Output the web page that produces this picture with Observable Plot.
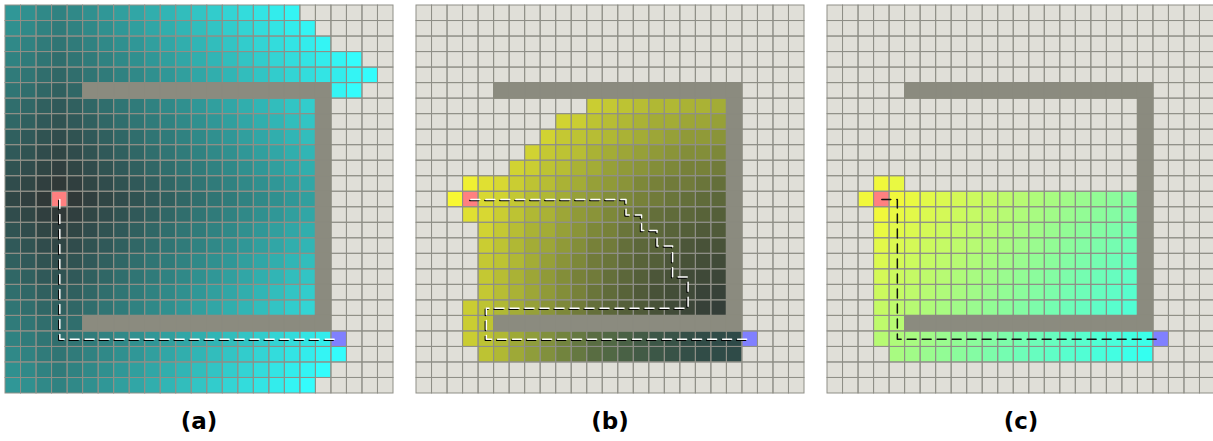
<!DOCTYPE html>
<html><head><meta charset="utf-8">
<script src="https://cdn.jsdelivr.net/npm/d3@7"></script>
<script src="https://cdn.jsdelivr.net/npm/@observablehq/plot@0.6"></script>
<style>
html,body{margin:0;padding:0;background:#fff;width:1213px;height:441px;overflow:hidden;position:relative;}
.panel{position:absolute;top:4px;width:390px;height:390px;}
.panel svg{display:block;}
.label{position:absolute;top:407px;width:390px;text-align:center;font:bold 23px "DejaVu Sans",sans-serif;line-height:28px;color:#000;}
</style></head><body>
<script>
// '.' unexplored, '#' wall, '*' start, '@' goal, other chars = value (0-9a-zA-Z)
const panelLabels = ["(a)", "(b)", "(c)"];

// (a) cost so far from start (grid steps)
const gridA = [
"fedcdefghijklmnopqr......",
"edcbcdefghijklmnopqr.....",
"dcbabcdefghijklmnopqr....",
"cba9abcdefghijklmnopqrs..",
"ba989abcdefghijklmnopqrs.",
"a9878################rs..",
"9876789abcdefghijklm#....",
"87656789abcdefghijkl#....",
"765456789abcdefghijk#....",
"6543456789abcdefghij#....",
"54323456789abcdefghi#....",
"432123456789abcdefgh#....",
"321*123456789abcdefg#....",
"432123456789abcdefgh#....",
"54323456789abcdefghi#....",
"6543456789abcdefghij#....",
"765456789abcdefghijk#....",
"87656789abcdefghijkl#....",
"9876789abcdefghijklm#....",
"a98789abcdefghijklmn#....",
"ba989################....",
"cba9abcdefghijklmnopq@...",
"dcbabcdefghijklmnopqrs...",
"edcbcdefghijklmnopqrs....",
"fedcdefghijklmnopqrs....."
];

// (b) distance to goal (half steps)
const gridB = [
".........................",
".........................",
".........................",
".........................",
".........................",
".....################....",
"...........Azyxwwvvu#....",
".........BAyxwvuutts#....",
"........Bzyxwvutsrrq#....",
".......Bzyxvutsrqppo#....",
"......BAyxvusrqponnm#....",
"...FDCAyxvusrqonmmlk#....",
"..G*CBzxwusrponmlkji#....",
"...DCAywvtrqonlkjihg#....",
"....Bzxvusqonlkihgff#....",
"....Aywutrpnmkihgedd#....",
"....zywusqomljhgedcb#....",
"....zxvtrpnmkigedba9#....",
"....zxvtrpnljhfdca87#....",
"...Aywusqomkigfdb976#....",
"...Ay################....",
"...Aywusqomkigeca8642@...",
"....ywusqomkigeca8643....",
".........................",
"........................."
];
const bLateRows = [21, 22];

// (c) cost so far from start (grid steps)
const gridC = [
".........................",
".........................",
".........................",
".........................",
".........................",
".....################....",
"....................#....",
"....................#....",
"....................#....",
"....................#....",
"....................#....",
"...12...............#....",
"..1*123456789abcdefg#....",
"...123456789abcdefgh#....",
"...23456789abcdefghi#....",
"...3456789abcdefghij#....",
"...456789abcdefghijk#....",
"...56789abcdefghijkl#....",
"...6789abcdefghijklm#....",
"...789abcdefghijklmn#....",
"...89################....",
"...9abcdefghijklmnopq@...",
"....bcdefghijklmnopqr....",
".........................",
"........................."
];

const pathA = [[3,12],[3,21],[21,21]];
const pathB = [[3,12],[13,12],[13,13],[14,13],[14,14],[15,14],[15,15],[16,15],[16,17],[17,17],[17,19],[4,19],[4,21],[21,21]];
const pathC = [[3,12],[4,12],[4,21],[21,21]];

const ALPH = "0123456789abcdefghijklmnopqrstuvwxyzABCDEFGHIJKLMNOPQRSTUVWXYZ";
function parse(rows) {
  const cells = [];
  rows.forEach((s, r) => [...s].forEach((ch, c) => {
    let kind, v = null;
    if (ch === ".") kind = "empty";
    else if (ch === "#") kind = "wall";
    else if (ch === "*") kind = "start";
    else if (ch === "@") kind = "goal";
    else { kind = "seen"; v = ALPH.indexOf(ch); }
    cells.push({c, r, kind, v});
  }));
  return cells;
}

const colorA = {type: "linear", domain: [0, 7, 14, 21, 28], range: ["#303232", "#30605f", "#30908f", "#32c4c4", "#34fcfc"], interpolate: "rgb", clamp: true};
const colorB = {type: "linear", domain: [2, 6, 12, 20, 28, 32, 36, 38, 40, 42], range: ["#303c3a", "#343e38", "#444e38", "#646f3a", "#96a038", "#b0b834", "#cacd32", "#d8d832", "#e8e832", "#f8f832"], interpolate: "rgb", clamp: true};
const colorC = {type: "linear", domain: [0, 27], range: ["#f8f834", "#34fff0"], interpolate: "rgb", clamp: true};

const rectPos = {x1: "c", x2: d => d.c + 1, y1: "r", y2: d => d.r + 1, inset: 0};

function makePanel(rows, color, path, whitePath, tint) {
  const cells = parse(rows);
  const by = k => cells.filter(d => d.kind === k);
  const marks = [
    Plot.rect(by("empty"), {...rectPos, fill: "#e0dfd8"}),
    Plot.rect(by("seen"), {...rectPos, fill: "v"}),
    Plot.rect(by("start"), {...rectPos, fill: "#ff8080"}),
    Plot.rect(by("goal"), {...rectPos, fill: "#8080ff"})
  ];
  if (tint) {
    const tc = cells.filter(d => d.kind === "seen" && tint.includes(d.r) && d.c >= 6);
    marks.push(Plot.rect(tc, {...rectPos, fill: "#2d6a68", fillOpacity: d => Math.min(0.32, 0.32 * (d.c - 5) / 10)}));
  }
  marks.push(Plot.rect(cells, {...rectPos, fill: "none", stroke: "#8f8f87", strokeWidth: 1}));
  marks.push(Plot.rect(by("wall"), {...rectPos, fill: "#8b8b7f", stroke: "#8b8b7f", strokeWidth: 1}));
  const lp = {x: d => d[0] + 0.5, y: d => d[1] + 0.5, strokeWidth: 1.5, strokeDasharray: "9,6"};
  if (whitePath) {
    marks.push(Plot.line(path, {...lp, stroke: "#000", dx: -1, dy: 1}));
    marks.push(Plot.line(path, {...lp, stroke: "#fff"}));
  } else {
    marks.push(Plot.line(path, {...lp, stroke: "#111"}));
  }
  return Plot.plot({
    width: 390, height: 390, margin: 1,
    x: {domain: [0, 25], range: [1, 389], axis: null},
    y: {domain: [0, 25], range: [1, 389], axis: null},
    color, opacity: {type: "identity"},
    style: {background: "transparent"},
    marks
  });
}

const specs = [
  [gridA, colorA, pathA, true, null],
  [gridB, colorB, pathB, true, bLateRows],
  [gridC, colorC, pathC, false, null]
];
const lefts = [4, 415, 826];
specs.forEach((s, i) => {
  const div = document.createElement("div");
  div.className = "panel";
  div.style.left = lefts[i] + "px";
  div.appendChild(makePanel(...s));
  document.body.appendChild(div);
  const lab = document.createElement("div");
  lab.className = "label";
  lab.style.left = lefts[i] + "px";
  lab.textContent = panelLabels[i];
  document.body.appendChild(lab);
});
</script>
</body></html>
